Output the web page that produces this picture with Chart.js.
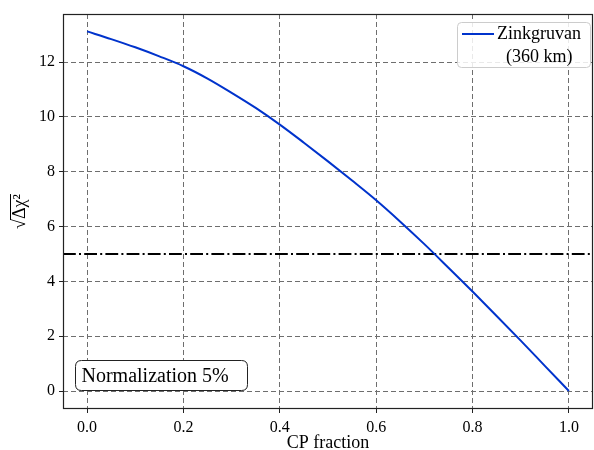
<!DOCTYPE html>
<html><head><meta charset="utf-8">
<script src="https://cdn.jsdelivr.net/npm/chart.js@4"></script>
<style>html,body{margin:0;padding:0;background:#fff}#wrap{width:594px;height:450px}</style>
</head><body><div id="wrap"><canvas id="c" width="594" height="450"></canvas></div>
<script>
const cpFraction = [0,0.05,0.1,0.15,0.2,0.25,0.3,0.35,0.4,0.45,0.5,0.55,0.6,0.65,0.7,0.75,0.8,0.85,0.9,0.95,1.0];
const zinkgruvan = [13.12,12.84,12.54,12.21,11.85,11.40,10.88,10.33,9.72,9.06,8.38,7.68,6.96,6.18,5.36,4.50,3.63,2.74,1.84,0.92,0];
const thresholdX = [-0.05,1.05];
const thresholdY = [5,5];
const xTicks = [0,0.2,0.4,0.6,0.8,1.0];
const yTicks = [0,2,4,6,8,10,12];
const legendLines = ['Zinkgruvan','(360 km)'];
const boxText = 'Normalization 5%';
const xTitle = 'CP fraction';
const yTitleRoot = '√';
const yTitleBody = 'Δχ²';

const SERIF = '"Liberation Serif","DejaVu Serif",serif';
const BLUE = '#0033cc';

function rr(ctx,x,y,w,h,r){
  ctx.beginPath();
  ctx.moveTo(x+r,y);ctx.lineTo(x+w-r,y);ctx.quadraticCurveTo(x+w,y,x+w,y+r);
  ctx.lineTo(x+w,y+h-r);ctx.quadraticCurveTo(x+w,y+h,x+w-r,y+h);
  ctx.lineTo(x+r,y+h);ctx.quadraticCurveTo(x,y+h,x,y+h-r);
  ctx.lineTo(x,y+r);ctx.quadraticCurveTo(x,y,x+r,y);ctx.closePath();
}

const decor = {
  id:'decor',
  afterDatasetsDraw(chart){
    const ctx = chart.ctx, a = chart.chartArea;
    ctx.save();
    // legend
    const lx = a.right-136, ly = a.top+8, lw = 133, lh = 45;
    rr(ctx,lx+0.5,ly+0.5,lw,lh,4);
    ctx.fillStyle='rgba(255,255,255,0.85)';ctx.fill();
    ctx.strokeStyle='#cccccc';ctx.lineWidth=1;ctx.stroke();
    ctx.beginPath();ctx.moveTo(lx+5,ly+12);ctx.lineTo(lx+37,ly+12);
    ctx.strokeStyle=BLUE;ctx.lineWidth=2;ctx.stroke();
    ctx.fillStyle='#000';ctx.font='18px '+SERIF;ctx.textBaseline='middle';ctx.textAlign='left';
    ctx.fillText(legendLines[0],lx+40,ly+12);
    ctx.fillText(legendLines[1],lx+49,ly+35);
    // normalization box
    const bx = 75.5, by = 360.5, bw = 172, bh = 30;
    rr(ctx,bx,by,bw,bh,6);
    ctx.fillStyle='#fff';ctx.fill();
    ctx.strokeStyle='#222';ctx.lineWidth=1;ctx.stroke();
    ctx.fillStyle='#000';ctx.font='20px '+SERIF;
    ctx.fillText(boxText,bx+6,by+bh/2+1);
    ctx.restore();
  },
  afterDraw(chart){
    const ctx = chart.ctx, a = chart.chartArea;
    ctx.save();
    ctx.strokeStyle='#222';ctx.lineWidth=1.2;
    ctx.strokeRect(a.left+0.5,a.top+0.5,a.right-a.left-1,a.bottom-a.top-1);
    // x title
    ctx.fillStyle='#000';ctx.font='18px '+SERIF;ctx.textAlign='center';ctx.textBaseline='middle';
    ctx.fillText(xTitle,(a.left+a.right)/2,443);
    // y title with overline
    ctx.translate(20,(a.top+a.bottom)/2);
    ctx.rotate(-Math.PI/2);
    ctx.font='18px '+SERIF;ctx.textAlign='left';ctx.textBaseline='middle';
    const w1 = ctx.measureText(yTitleRoot).width, w2 = ctx.measureText(yTitleBody).width;
    const x0 = -(w1+w2)/2;
    ctx.fillText(yTitleRoot,x0,0);
    ctx.fillText(yTitleBody,x0+w1,0);
    ctx.beginPath();ctx.moveTo(x0+w1-1,-9.5);ctx.lineTo(x0+w1+w2,-9.5);
    ctx.strokeStyle='#000';ctx.lineWidth=1;ctx.stroke();
    ctx.restore();
  }
};

new Chart(document.getElementById('c'),{
  type:'line',
  data:{datasets:[
    {label:'Zinkgruvan (360 km)',data:cpFraction.map((x,i)=>({x:x,y:zinkgruvan[i]})),
     borderColor:BLUE,borderWidth:2,pointRadius:0,cubicInterpolationMode:'monotone',fill:false},
    {label:'threshold',data:thresholdX.map((x,i)=>({x:x,y:thresholdY[i]})),
     borderColor:'#000',borderWidth:2,borderDash:[12.8,3.2,2,3.2],pointRadius:0,fill:false}
  ]},
  options:{
    responsive:false,animation:false,devicePixelRatio:1,
    layout:{padding:{top:14,right:1,left:0,bottom:0}},
    plugins:{legend:{display:false},tooltip:{enabled:false}},
    scales:{
      x:{type:'linear',min:-0.05,max:1.05,
        afterBuildTicks:s=>{s.ticks=xTicks.map(v=>({value:v}));},
        afterFit:s=>{s.height=41;},
        ticks:{callback:v=>Number(v).toFixed(1),font:{family:SERIF,size:16},color:'#000',padding:5,maxRotation:0,autoSkip:false},
        grid:{color:'#6e6e6e',lineWidth:1,tickLength:4,tickColor:'#222',tickWidth:1},
        border:{display:false,dash:[5,3]}
      },
      y:{type:'linear',min:-0.655,max:13.755,
        afterBuildTicks:s=>{s.ticks=yTicks.map(v=>({value:v}));},
        afterFit:s=>{s.width=63;},
        ticks:{callback:v=>String(v),font:{family:SERIF,size:16},color:'#000',padding:4,autoSkip:false},
        grid:{color:'#6e6e6e',lineWidth:1,tickLength:4,tickColor:'#222',tickWidth:1},
        border:{display:false,dash:[5,3]}
      }
    }
  },
  plugins:[decor]
});
</script></body></html>
